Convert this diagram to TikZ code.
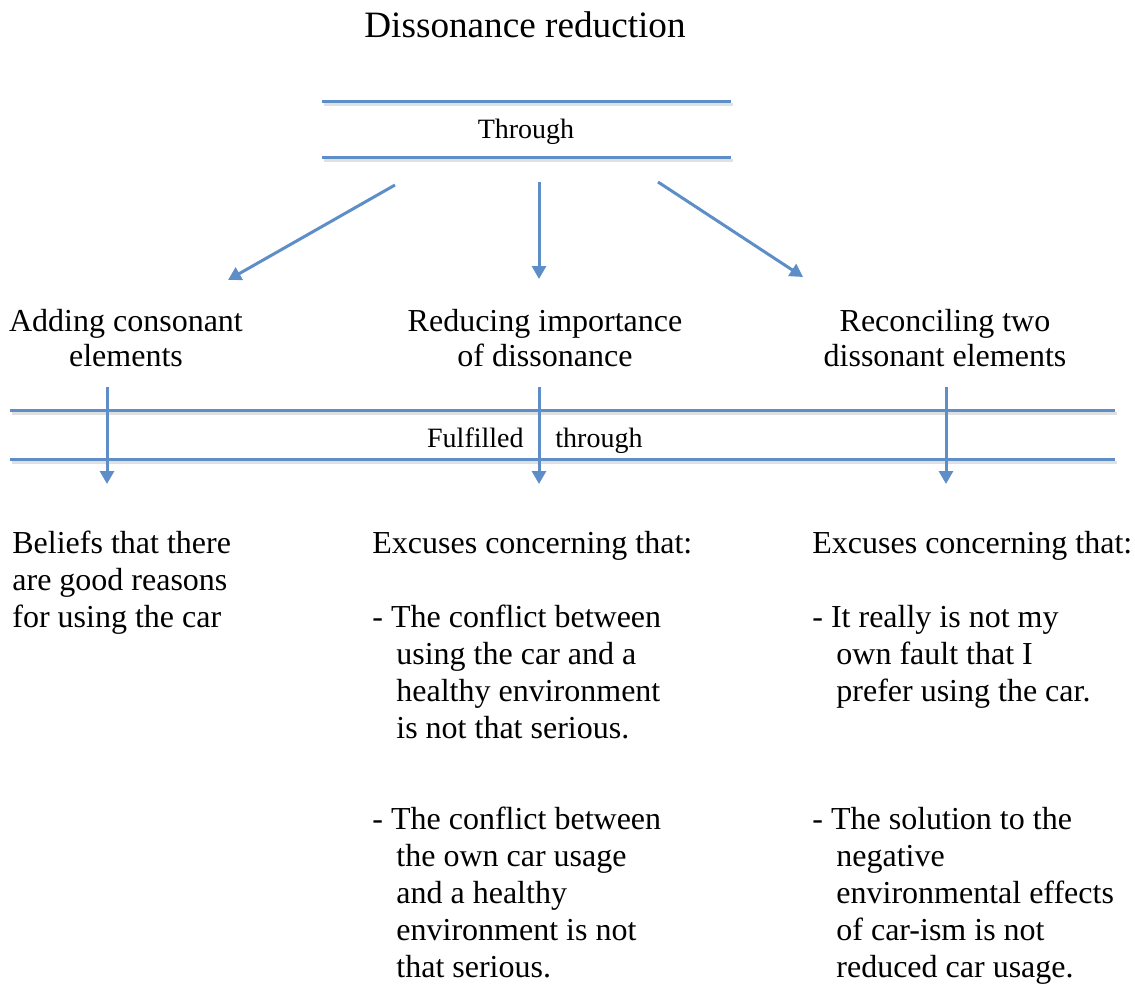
\documentclass[tikz,border=0pt]{standalone}
\usepackage{fontspec}
\setmainfont{Liberation Serif}
\usetikzlibrary{arrows.meta}

\definecolor{lineblue}{RGB}{94,142,200}
\newcommand{\indline}{\hspace*{12pt}}

\tikzset{
    blueline/.style={draw=lineblue, line width=1.5pt},
    shadowline/.style={draw=black!12, line width=1.5pt},
    bluearrow/.style={draw=lineblue, line width=1.5pt, -{Triangle[width=7pt,length=6.5pt]}},
    titletext/.style={font=\fontsize{18.6}{21}\selectfont, inner sep=0pt, anchor=base},
    smalltext/.style={font=\fontsize{14}{16}\selectfont, inner sep=0pt},
    heading/.style={font=\fontsize{16}{17.5}\selectfont, align=center, inner sep=0pt, anchor=base},
    bodytext/.style={font=\fontsize{16}{18.5}\selectfont, align=left, inner sep=0pt, anchor=base west},
}

\begin{document}
\begin{tikzpicture}[x=0.5pt, y=-0.5pt]
        \useasboundingbox (0,0) rectangle (1135,985);

        % title and top band
        \node[titletext] (title) at (525,38) {Dissonance reduction};
        \draw[shadowline] (324,104) -- (733,104);
        \draw[shadowline] (324,160) -- (733,160);
        \draw[blueline] (322,101) -- (731,101);
        \draw[blueline] (322,157) -- (731,157);
        \node[smalltext, anchor=base] (thr) at (526,138) {Through};

        % three ways (base = last line)
        \node[heading] (addhd) at (126,366) {Adding consonant\\elements};
        \node[heading] (reduhd) at (545,366) {Reducing importance\\of dissonance};
        \node[heading] (recohd) at (945,366) {Reconciling two\\dissonant elements};

        \coordinate (s1) at (395,185);
        \coordinate (s2) at (539,182);
        \coordinate (s3) at (658,182);
        \coordinate (e1) at (228,280);
        \coordinate (e2) at (539,279);
        \coordinate (e3) at (803,277);

        \draw[bluearrow] (s1) -- (e1);
        \draw[bluearrow] (s2) -- (e2);
        \draw[bluearrow] (s3) -- (e3);

        % lower band
        \draw[shadowline] (12,413) -- (1117,413);
        \draw[shadowline] (12,462) -- (1117,462);
        \draw[blueline] (10,410) -- (1115,410);
        \draw[blueline] (10,459) -- (1115,459);
        \node[smalltext, anchor=base east] (fulf) at (524,447) {Fulfilled};
        \node[smalltext, anchor=base west] (thr2) at (555,447) {through};

        \coordinate (t1) at (107,387);
        \coordinate (t2) at (539,387);
        \coordinate (t3) at (946,387);
        \coordinate (b1) at (107,484);
        \coordinate (b2) at (539,484);
        \coordinate (b3) at (946,484);

        \draw[bluearrow] (t1) -- (b1);
        \draw[bluearrow] (t2) -- (b2);
        \draw[bluearrow] (t3) -- (b3);

        % outcomes (base = last line)
        \node[bodytext] (beliefs) at (12,627) {Beliefs that there\\are good reasons\\for using the car};

        \node[bodytext] (exc1) at (372,553) {Excuses concerning that:};
        \node[bodytext] (exc1a) at (372,738) {- The conflict between\\\indline using the car and a\\\indline healthy environment\\\indline is not that serious.};
        \node[bodytext] (exc1b) at (372,977) {- The conflict between\\\indline the own car usage\\\indline and a healthy\\\indline environment is not\\\indline that serious.};

        \node[bodytext] (exc2) at (812,553) {Excuses concerning that:};
        \node[bodytext] (exc2a) at (812,701) {- It really is not my\\\indline own fault that I\\\indline prefer using the car.};
        \node[bodytext] (exc2b) at (812,977) {- The solution to the\\\indline negative\\\indline environmental effects\\\indline of car-ism is not\\\indline reduced car usage.};
\end{tikzpicture}
\end{document}
